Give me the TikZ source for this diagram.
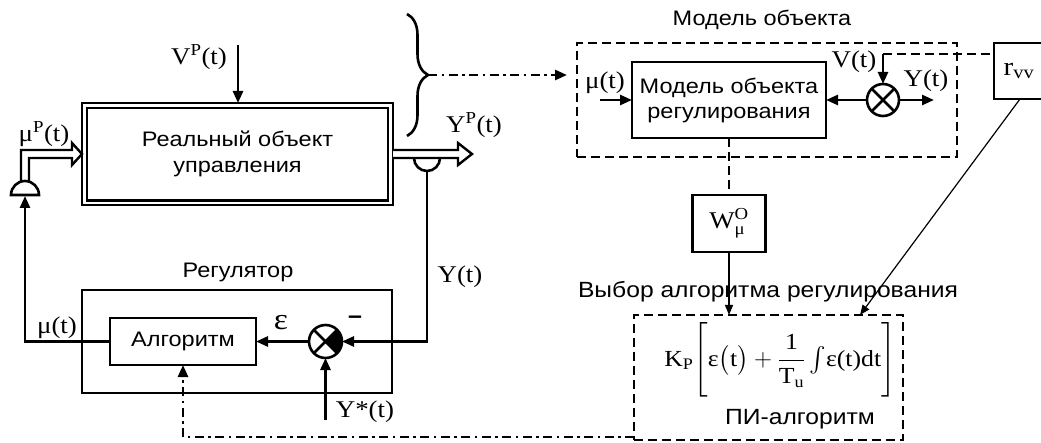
\documentclass[tikz,border=0pt]{standalone}
\usepackage{amsmath}
\usepackage{fontspec}
\setmainfont[FakeStretch=1.12]{Liberation Sans}
\newfontfamily\tms[FakeStretch=1.12]{Liberation Serif}
\usetikzlibrary{arrows.meta,decorations.pathreplacing,calc}
\begin{document}
\begin{tikzpicture}[x=1pt,y=-1pt,
  ln/.style={line width=2.6pt},
  thinln/.style={line width=1.2pt},
  dsh/.style={line width=2.8pt,dash pattern=on 9pt off 5pt},
  dd/.style={line width=2.6pt,dash pattern=on 9pt off 4.5pt on 2.5pt off 4.5pt},
  box/.style={draw,line width=2.6pt,inner sep=0pt,outer sep=0pt},
  dbox/.style={draw,dsh,inner sep=0pt,outer sep=0pt},
  sans/.style={font=\fontsize{21}{26}\selectfont,inner sep=0pt},
  ser/.style={font=\tms\fontsize{24}{26}\selectfont,inner sep=0pt},
  tip/.style={-{Triangle[length=12pt,width=10pt]}},
  stip/.style={-{Triangle[length=10pt,width=8pt]}},
  sumn/.style={circle,draw,line width=2.6pt,minimum size=33pt,inner sep=0pt,outer sep=0pt},
]
\useasboundingbox (0,0) rectangle (1041,443);

% ---------- real object ----------
\node[draw,line width=2.2pt,double,double distance=2.6pt,inner sep=0pt,outer sep=0pt,minimum width=306pt,minimum height=97.5pt,sans,align=center]
  (obj) at (237.5,154.25) {Реальный объект\\управления};
\coordinate (vp) at (238,45);
\draw[ln,tip] (vp) -- (238,103);
\node[ser] (vpl) at (199,57) {V\textsuperscript{P}(t)};

% output double arrow Y^P
\draw[line width=2.4pt,fill=white,line join=miter] (393,150) -- (458,150) -- (458,143) -- (472,154) -- (458,165) -- (458,158) -- (393,158);
\node[ser] (ypl) at (474,125) {Y\textsuperscript{P}(t)};
\draw[ln] (414,158) arc[start angle=180,end angle=360,radius=13pt];
\coordinate (ysens) at (427,171);

% input double arrow mu^P
\draw[line width=2.4pt,fill=white,line join=miter] (21,182) -- (21,150) -- (72,150) -- (72,143) -- (82,154) -- (72,165) -- (72,158) -- (29,158) -- (29,182);
\draw[ln,fill=white] (11,195) arc[start angle=180,end angle=0,radius=14pt] -- cycle;
\coordinate (sensB) at (25,196);
\node[ser] (mupl) at (44,134) {μ\textsuperscript{P}(t)};

% brace
\draw[ln,decorate,decoration={brace,amplitude=21pt}] (407,14) -- (407,136);
\coordinate (brtip) at (428,75);

% ---------- regulator ----------
\node[box,minimum width=310pt,minimum height=103pt] (reg) at (237,341.5) {};
\node[sans] (regl) at (238,272) {Регулятор};
\node[box,minimum width=146pt,minimum height=47pt,sans] (alg) at (183,341.5) {Алгоритм};
\node[sumn] (s1) at (325.5,341.5) {};
\draw[ln] (s1.north west) -- (s1.south east) (s1.north east) -- (s1.south west);
\fill (s1.center) -- (s1.north east) arc[start angle=45,end angle=-45,radius=16.5pt] -- cycle;
\node[font=\tms\fontsize{30}{30}\selectfont,inner sep=0pt] (eps) at (281,323) {ε};
\node[font=\bfseries\fontsize{22}{22}\selectfont,inner sep=0pt] (minus) at (355,320) {−};
\draw[ln,tip] (s1.west) -- (alg.east);
\draw[ln,tip] (ysens) |- (s1.east);
\node[ser] (yl) at (460,277) {Y(t)};
\coordinate (ystar) at (325.5,420);
\draw[ln,tip] (ystar) -- (s1.south);
\node[ser] (ysl) at (365,412) {Y*(t)};
\draw[ln,tip] (alg.west) -| (sensB);
\node[ser] (mul) at (57,328) {μ(t)};

% ---------- model of object ----------
\node[dbox,minimum width=380pt,minimum height=114pt] (mdl) at (767,100) {};
\node[sans] (mdll) at (762,20) {Модель объекта};
\node[box,minimum width=194pt,minimum height=76pt,sans,align=center,font=\fontsize{21}{25}\selectfont] (mo) at (729,100) {Модель объекта\\регулирования};
\node[sumn,minimum size=32pt] (s2) at (883,100) {};
\draw[ln] (s2.north west) -- (s2.south east) (s2.north east) -- (s2.south west);
\draw[ln,tip] (s2.west) -- (mo.east);
\coordinate (yout) at (934,100);
\draw[ln,tip] (s2.east) -- (yout);
\node[ser] (ymdl) at (926,81) {Y(t)};
\coordinate (vcor) at (883,54);
\draw[ln,tip] (vcor) -- (s2.north);
\node[ser] (vl) at (854,62) {V(t)};
\coordinate (muin) at (600,100);
\draw[ln,tip] (muin) -- (mo.west);
\node[ser] (mumdl) at (605,83) {μ(t)};
\draw[dd,tip] (brtip) -- ($(mdl.west |- brtip)+(-10,0)$);

% r_vv
\node[box,minimum width=50pt,minimum height=56pt,ser,anchor=north west,font=\tms\fontsize{26}{26}\selectfont] (rvv) at (994,43) {r\textsubscript{vv}};
\draw[dsh] (vcor) -- (rvv.west |- vcor);

% W
\node[box,minimum width=73pt,minimum height=57pt,ser] (wb) at (729,223.5) {$\text{W}^{\text{O}}_{\text{μ}}$};
\draw[dsh] (mo.south) -- (wb.north);

% ---------- PI ----------
\node[dbox,minimum width=269pt,minimum height=125pt] (pi) at (768.5,377.5) {};
\node[font=\fontsize{22}{26}\selectfont,inner sep=0pt] (piT) at (768,292) {Выбор алгоритма регулирования};
\node[font=\tms\fontsize{23}{26}\selectfont,inner sep=0pt] (form) at (780,360)
  {$\text{K}_{\text{P}}\Biggl[\bigl.\text{ε}\bigl(\text{t}\bigr)+\dfrac{\text{1}}{\text{T}_{\text{u}}}\textstyle\int\!\text{ε(t)dt}\Biggr]$};
\node[font=\fontsize{22}{24}\selectfont,inner sep=0pt] (pil) at (800,419) {ПИ-алгоритм};
\draw[thinln,stip] (wb.south) -- (wb.south |- pi.north);
\draw[thinln,stip] ($(rvv.south)+(1,0)$) -- ($(pi.north west)+(226,0)$);
\coordinate (ddst) at ($(pi.south west)+(0,-3)$);
\draw[dd,tip] (ddst) -| (alg.south);
\end{tikzpicture}
\end{document}
